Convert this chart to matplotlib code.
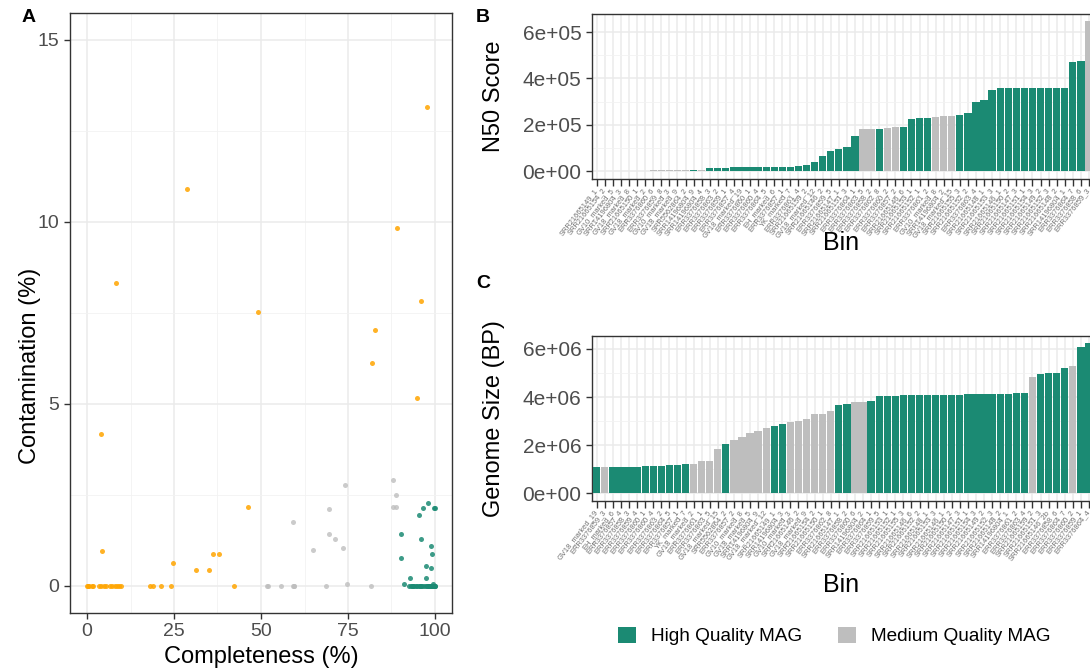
import matplotlib
matplotlib.use("Agg")
import matplotlib.pyplot as plt
from matplotlib.patches import Patch
from matplotlib.ticker import FuncFormatter, MultipleLocator, FixedLocator
import numpy as np

plt.rcParams['font.family'] = ['Liberation Sans', 'DejaVu Sans']

TEAL = "#1B8A73"
GRAY = "#BEBEBE"
ORANGE = "#FFA500"

# ---------------- Panel A data ----------------
low_completeness = [97.6, 28.6, 89.0, 8.2, 95.9, 49.0, 82.7, 81.8, 94.9, 4.0, 46.2, 4.4, 24.8,
                    31.4, 35.2, 36.1, 37.8,
                    0.0, 0.3, 0.6, 1.3, 1.7, 3.5, 4.1, 5.0, 5.6, 6.5, 7.2, 8.0, 8.7, 9.3, 9.9,
                    18.1, 19.0, 21.4, 24.1, 42.1]
low_contamination = [13.15, 10.91, 9.84, 8.33, 7.82, 7.53, 7.02, 6.13, 5.15, 4.16, 2.17, 0.96, 0.63,
                     0.43, 0.43, 0.87, 0.87,
                     0, 0, 0, 0, 0, 0, 0, 0, 0, 0, 0, 0, 0, 0, 0,
                     0, 0, 0, 0, 0]

med_completeness = [51.7, 55.8, 59.1, 59.6, 68.8, 74.8, 81.5, 59.1, 64.9, 69.5, 69.6, 71.2, 73.7,
                    74.0, 88.0, 88.8, 88.0, 88.9, 59.4, 51.9]
med_contamination = [0, 0, 0, 0, 0, 0.06, 0, 1.76, 0.99, 2.11, 1.41, 1.29, 1.05,
                     2.76, 2.90, 2.48, 2.17, 2.17, 0, 0]

high_completeness = [90.1, 90.2, 91.2, 92.9, 95.4, 96.6, 98.1, 99.8, 100.0, 95.9, 98.8, 99.0,
                     97.3, 98.8, 97.4, 99.5,
                     92.6, 93.1, 93.6, 94.1, 94.5, 95.5, 96.0, 96.4, 96.9, 97.4, 97.9, 98.2,
                     98.4, 98.8, 99.1, 99.3, 99.6, 99.8, 100.0, 93.4, 95.8, 97.6, 98.6, 99.2,
                     99.9, 94.8]
high_contamination = [1.42, 0.75, 0.05, 0.20, 1.94, 2.14, 2.28, 2.14, 2.14, 1.28, 1.08, 0.86,
                      0.54, 0.49, 0.21, 0.06,
                      0, 0, 0, 0, 0, 0, 0, 0, 0, 0, 0, 0,
                      0, 0, 0, 0, 0, 0, 0, 0, 0, 0, 0, 0,
                      0, 0]

# ---------------- Panel B data ----------------
n50_bins = ["SRR21665149_1", "SRR21665154_2", "GV10_marked_5", "SRR14196804_3", "GV18_marked_8",
            "SRR21665150_1", "GV18_marked_2", "ERR3376860_6", "ERR3376859_8", "GV10_marked_3",
            "GV18_marked_9", "SRR5562864_2", "SRR14196804_9", "SRR14196804_4", "ERR3376858_3",
            "ERR3376863_2", "ERR3376859_1", "ERR3376857_4", "GV18_marked_19", "ERR3376860_1",
            "ERR3376860_4", "ERR3376864_5", "EH_marked_6", "ERR3376857_1", "YK_marked_7",
            "ERR3376861_4", "SRR21665159_2", "GV18_marked_12", "SRR21665146_2", "ERR3376859_5",
            "SRR21665147_1", "SRR21665151_3", "ERR3376864_1", "ERR3376863_5", "ERR3376858_2",
            "ERR3376862_8", "ERR3376860_2", "ERR3376857_2", "SRR21665146_6", "SRR21665153_1",
            "SRR21665152_1", "ERR3376861_2", "GV10_marked_8", "SRR14196804_2", "GV18_marked_15",
            "SRR21665155_3", "SRR21665152_2", "ERR3376863_4", "SRR21665148_1", "SRR21665153_3",
            "SRR21665146_1", "SRR21665150_2", "SRR21665147_3", "SRR21665151_1", "SRR21665154_3",
            "SRR21665149_2", "SRR21665152_3", "SRR21665148_2", "SRR14196804_1", "ERR3376864_7",
            "ERR3376858_6", "ERR3376859_3"]
n50_values = [900, 1100, 1300, 1500, 1700, 1900, 2100, 2300, 2500, 2700, 2900, 3100, 3400, 3800,
              14000, 14500, 15000, 15500, 16000, 16500, 17000, 17500, 18000, 18500, 19000, 20000,
              24000, 37000, 66000, 87000, 95000, 104000, 150000, 180000, 181000, 182000, 184000,
              189000, 190000, 226000, 229000, 231000, 235000, 236000, 237000, 240000, 252000,
              298000, 306000, 351000, 357000, 357000, 357000, 357000, 357000, 357000, 357000,
              357000, 357000, 472000, 473000, 647000]
n50_quality = ["M", "M", "M", "M", "M", "H", "M", "M", "M", "M", "M", "M", "H", "M",
               "H", "H", "H", "H", "H", "H", "H", "H", "H", "H", "H", "H",
               "H", "H", "H", "H", "H", "H", "H", "M", "M", "H", "M", "M", "H", "H", "H", "H",
               "M", "M", "M", "H", "H", "H", "H", "H", "H", "H", "H", "H", "H", "H", "H", "H",
               "H", "H", "H", "M"]

# ---------------- Panel C data ----------------
size_bins = ["GV18_marked_19", "ERR3376859_3", "EH_marked_6", "ERR3376857_4", "ERR3376858_3",
             "ERR3376859_4", "ERR3376860_1", "ERR3376860_4", "ERR3376863_2", "ERR3376864_5",
             "ERR3376857_1", "YK_marked_7", "GV18_marked_2", "ERR3376861_1", "ERR3376863_5",
             "GV18_marked_15", "SRR5562864_2", "ERR3376857_2", "GV10_marked_8", "GV18_marked_5",
             "SRR14196804_9", "GV18_marked_12", "SRR21665149_1", "SRR14196804_3", "GV10_marked_3",
             "SRR21665146_2", "GV18_marked_9", "SRR21665154_2", "SRR21665150_1", "ERR3376862_8",
             "SRR21665147_1", "ERR3376858_2", "ERR3376860_6", "SRR14196804_2", "ERR3376864_1",
             "ERR3376859_5", "SRR21665153_1", "SRR21665152_1", "SRR21665155_3", "SRR21665146_6",
             "SRR21665152_2", "SRR21665148_1", "SRR21665153_3", "SRR21665146_1", "SRR21665150_2",
             "SRR21665147_3", "SRR21665151_1", "SRR21665154_3", "SRR21665149_2", "SRR21665152_3",
             "SRR21665148_2", "SRR14196804_1", "ERR3376861_2", "ERR3376863_4", "SRR21665159_2",
             "SRR21665151_3", "SRR21665146_2b", "ERR3376858_6", "ERR3376864_7", "ERR3376860_2",
             "ERR3376859_1", "ERR3376864_4"]
size_values = [1.07e6, 1.08e6, 1.09e6, 1.09e6, 1.10e6, 1.10e6, 1.11e6, 1.12e6, 1.13e6, 1.15e6,
               1.16e6, 1.19e6, 1.21e6, 1.33e6, 1.34e6, 1.84e6, 2.05e6, 2.20e6, 2.33e6, 2.49e6,
               2.57e6, 2.72e6, 2.79e6, 2.88e6, 2.95e6, 3.00e6, 3.10e6, 3.30e6, 3.31e6, 3.42e6,
               3.66e6, 3.70e6, 3.78e6, 3.79e6, 3.84e6, 4.03e6, 4.04e6, 4.05e6, 4.09e6, 4.10e6,
               4.10e6, 4.10e6, 4.10e6, 4.10e6, 4.10e6, 4.10e6, 4.11e6, 4.11e6, 4.11e6, 4.11e6,
               4.11e6, 4.12e6, 4.15e6, 4.16e6, 4.83e6, 4.95e6, 4.99e6, 5.01e6, 5.20e6, 5.28e6,
               6.10e6, 6.23e6]
size_quality = ["H", "M", "H", "H", "H", "H", "H", "H", "H", "H", "H", "H", "M", "M", "M", "M",
                "H", "M", "M", "M", "M", "M", "H", "H", "M", "M", "M", "M", "M", "M",
                "H", "H", "M", "M", "H", "H", "H", "H", "H", "H", "H", "H", "H", "H", "H", "H",
                "H", "H", "H", "H", "H", "H", "H", "H", "M", "H", "H", "H", "H", "M", "H", "H"]

legend_labels = ["High Quality MAG", "Medium Quality MAG"]

# ---------------- Figure ----------------
W, H = 1090, 670
fig = plt.figure(figsize=(W / 100, H / 100), dpi=100)

def frac_box(x0, y0, x1, y1):
    return [x0 / W, 1 - y1 / H, (x1 - x0) / W, (y1 - y0) / H]

GRID_MAJ = dict(color="#EBEBEB", linewidth=1.1)
GRID_MIN = dict(color="#F2F2F2", linewidth=0.6)
TICK_COL = "#4D4D4D"

def style_axes(ax):
    ax.set_facecolor("white")
    for s in ax.spines.values():
        s.set_color("#333333")
        s.set_linewidth(1.0)
    ax.tick_params(axis="both", which="major", color="#333333", length=4, width=1.0,
                   labelcolor=TICK_COL)
    ax.tick_params(axis="both", which="minor", length=0)
    ax.set_axisbelow(True)

# ---- Panel A ----
axA_box = (69.6, 12.7, 452.4, 613)
axA = fig.add_axes(frac_box(*axA_box))
style_axes(axA)
axA.scatter(low_completeness, low_contamination, s=13, color=ORANGE, alpha=0.85,
            linewidths=0, zorder=3)
axA.scatter(med_completeness, med_contamination, s=13, color=GRAY, alpha=0.8,
            linewidths=0, zorder=3)
axA.scatter(high_completeness, high_contamination, s=13, color=TEAL, alpha=0.85,
            linewidths=0, zorder=3)
axA.set_xlim(-5, 105)
axA.set_ylim(-0.75, 15.75)
axA.xaxis.set_major_locator(MultipleLocator(25))
axA.yaxis.set_major_locator(MultipleLocator(5))
axA.xaxis.set_minor_locator(FixedLocator([12.5, 37.5, 62.5, 87.5]))
axA.yaxis.set_minor_locator(FixedLocator([2.5, 7.5, 12.5]))
axA.grid(True, which="major", **GRID_MAJ)
axA.grid(True, which="minor", **GRID_MIN)
axA.tick_params(labelsize=14)
axA.set_xlabel("Completeness (%)", fontsize=17, va="center")
axA.set_ylabel("Contamination (%)", fontsize=17, va="center")
aw = axA_box[2] - axA_box[0]
ah = axA_box[3] - axA_box[1]
axA.xaxis.set_label_coords((261 - axA_box[0]) / aw, (axA_box[3] - 657) / ah)
axA.yaxis.set_label_coords((30 - axA_box[0]) / aw, (axA_box[3] - 366) / ah)

# ---- Bar panels ----
def bar_panel(ax, box, labels, values, quality, ylabel, major_step, bin_y):
    style_axes(ax)
    x = np.arange(len(values))
    colors = [TEAL if q == "H" else GRAY for q in quality]
    ax.bar(x, values, width=0.9, color=colors, linewidth=0, zorder=3)
    vmax = max(values)
    ax.set_ylim(-0.05 * vmax, 1.05 * vmax)
    ax.set_xlim(-0.6, len(values) - 0.4)
    ax.set_xticks(x)
    ax.set_xticklabels(labels, rotation=52, ha="right", va="center",
                       rotation_mode="anchor", fontsize=5.4, color="#707070")
    ax.yaxis.set_major_locator(MultipleLocator(major_step))
    ax.yaxis.set_minor_locator(MultipleLocator(major_step / 2))
    ax.yaxis.set_major_formatter(FuncFormatter(lambda v, p: f"{v:.0e}"))
    ax.grid(True, which="major", **GRID_MAJ)
    ax.grid(True, which="minor", axis="y", **GRID_MIN)
    ax.tick_params(axis="y", labelsize=15)
    ax.tick_params(axis="x", length=5, pad=2.5)
    ax.set_ylabel(ylabel, fontsize=17, va="center")
    ax.set_xlabel("Bin", fontsize=18, va="center")
    bw = box[2] - box[0]
    bh = box[3] - box[1]
    ax.yaxis.set_label_coords((494 - box[0]) / bw, 0.5)
    ax.xaxis.set_label_coords((841 - box[0]) / bw, (box[3] - bin_y) / bh)

boxB = (591.9, 13.7, 1093.8, 178.5)
axB = fig.add_axes(frac_box(*boxB))
bar_panel(axB, boxB, n50_bins, n50_values, n50_quality, "N50 Score", 2e5, 243)

boxC = (591.9, 336.0, 1093.8, 500.5)
axC = fig.add_axes(frac_box(*boxC))
bar_panel(axC, boxC, size_bins, size_values, size_quality, "Genome Size (BP)", 2e6, 585)

# ---- Panel tags ----
fig.text(22 / W, 1 - 17 / H, "A", fontsize=14, fontweight="bold", ha="left", va="center")
fig.text(476 / W, 1 - 17 / H, "B", fontsize=14, fontweight="bold", ha="left", va="center")
fig.text(476 / W, 1 - 284 / H, "C", fontsize=14, fontweight="bold", ha="left", va="center")

# ---- Legend ----
handles = [Patch(facecolor=TEAL, edgecolor="none"), Patch(facecolor=GRAY, edgecolor="none")]
fig.legend(handles, legend_labels, loc="center", bbox_to_anchor=(834 / W, 1 - 636 / H),
           ncol=2, frameon=False, fontsize=13.7, handlelength=0.95, handleheight=0.9,
           handletextpad=0.79, columnspacing=1.89, borderpad=0, borderaxespad=0)

fig.savefig("out.png", dpi=100, facecolor="white")
